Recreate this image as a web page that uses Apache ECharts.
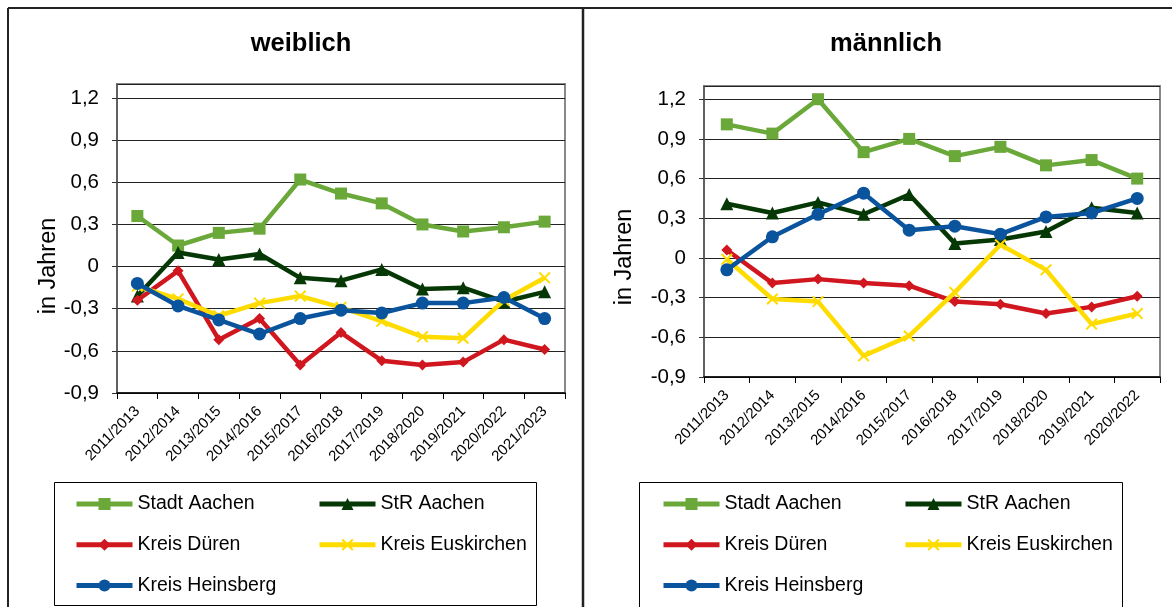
<!DOCTYPE html>
<html>
<head>
<meta charset="utf-8">
<script src="https://cdn.jsdelivr.net/npm/echarts@6/dist/echarts.min.js"></script>
<style>
html,body{margin:0;padding:0;background:#fff;}
#chart{width:1172px;height:607px;}
</style>
</head>
<body>
<div id="chart"></div>
<script>
const categoriesW = ['2011/2013','2012/2014','2013/2015','2014/2016','2015/2017','2016/2018','2017/2019','2018/2020','2019/2021','2020/2022','2021/2023'];
const categoriesM = ['2011/2013','2012/2014','2013/2015','2014/2016','2015/2017','2016/2018','2017/2019','2018/2020','2019/2021','2020/2022'];

const seriesNames = ['Stadt Aachen','StR Aachen','Kreis Düren','Kreis Euskirchen','Kreis Heinsberg'];

// weiblich
const stadtAachenW     = [0.36, 0.15, 0.24, 0.27, 0.62, 0.52, 0.45, 0.30, 0.25, 0.28, 0.32];
const strAachenW       = [-0.21, 0.10, 0.05, 0.09, -0.08, -0.10, -0.02, -0.16, -0.15, -0.25, -0.18];
const kreisDuerenW     = [-0.24, -0.03, -0.52, -0.37, -0.70, -0.47, -0.67, -0.70, -0.68, -0.52, -0.59];
const kreisEuskirchenW = [-0.14, -0.23, -0.35, -0.26, -0.21, -0.29, -0.39, -0.50, -0.51, -0.24, -0.08];
const kreisHeinsbergW  = [-0.12, -0.28, -0.38, -0.48, -0.37, -0.31, -0.33, -0.26, -0.26, -0.22, -0.37];

// männlich
const stadtAachenM     = [1.01, 0.94, 1.20, 0.80, 0.90, 0.77, 0.84, 0.70, 0.74, 0.60];
const strAachenM       = [0.41, 0.34, 0.42, 0.33, 0.48, 0.11, 0.14, 0.20, 0.38, 0.34];
const kreisDuerenM     = [0.06, -0.19, -0.16, -0.19, -0.21, -0.33, -0.35, -0.42, -0.37, -0.29];
const kreisEuskirchenM = [-0.01, -0.31, -0.33, -0.74, -0.59, -0.26, 0.10, -0.09, -0.50, -0.42];
const kreisHeinsbergM  = [-0.09, 0.16, 0.33, 0.49, 0.21, 0.24, 0.18, 0.31, 0.34, 0.45];

const yMin = -0.9, yMax = 1.3, yInterval = 0.3;

const colors = ['#6aa83a', '#063806', '#d0161e', '#ffdc00', '#0a539d'];
const xPath = 'path://M0,1.2L1.2,0L5,3.8L8.8,0L10,1.2L6.2,5L10,8.8L8.8,10L5,6.2L1.2,10L0,8.8L3.8,5Z';
const symbols = ['rect', 'triangle', 'diamond', xPath, 'circle'];
const symbolSizes = [12, 13, 11, 12, 13];

const dataW = [stadtAachenW, strAachenW, kreisDuerenW, kreisEuskirchenW, kreisHeinsbergW];
const dataM = [stadtAachenM, strAachenM, kreisDuerenM, kreisEuskirchenM, kreisHeinsbergM];

const FONT = '"Liberation Sans", Arial, sans-serif';

function yAxisCfg(gridIndex) {
  return {
    type: 'value', gridIndex, min: yMin, max: yMax, interval: yInterval,
    axisLine: { show: true, lineStyle: { color: '#555', width: 1.5 } },
    axisTick: { show: true, length: 5, inside: false, lineStyle: { color: '#333' } },
    splitLine: { show: true, lineStyle: { color: '#222', width: 1 } },
    axisLabel: {
      showMaxLabel: false, color: '#000', fontSize: 20.5, fontFamily: FONT, margin: 18,
      formatter: v => (Math.round(v * 10) / 10).toString().replace('.', ',')
    }
  };
}
function xAxisCfg(gridIndex, cats) {
  return {
    type: 'category', gridIndex, data: cats, boundaryGap: true,
    axisLine: { show: true, onZero: false, lineStyle: { color: '#000', width: 1.5 } },
    axisTick: { show: true, length: 6, inside: false, lineStyle: { color: '#000' } },
    axisLabel: { interval: 0, rotate: 45, color: '#000', fontSize: 15, fontFamily: FONT, margin: 16 },
    splitLine: { show: false }
  };
}

const series = [];
[dataW, dataM].forEach((set, gi) => {
  set.forEach((arr, i) => {
    series.push({
      name: seriesNames[i], type: 'line', xAxisIndex: gi, yAxisIndex: gi,
      data: arr, symbol: symbols[i], symbolSize: symbolSizes[i],
      lineStyle: { color: colors[i], width: 4.5 },
      itemStyle: { color: colors[i], borderColor: colors[i], borderWidth: 0 },
      emphasis: { disabled: true }, animation: false, z: 2 + i, showAllSymbol: true
    });
  });
});

function legendCfg(left, names) {
  return {
    orient: 'vertical', left, top: 493, padding: 0, itemGap: 18.8, itemWidth: 56, itemHeight: 15,
    selectedMode: false, data: names,
    lineStyle: { width: 5 },
    textStyle: { color: '#000', fontSize: 19.5, fontFamily: FONT, lineHeight: 22 }
  };
}

const col1 = [seriesNames[0], seriesNames[2], seriesNames[4]];
const col2 = [seriesNames[1], seriesNames[3]];

const option = {
  backgroundColor: '#fff',
  animation: false,
  title: [
    { text: 'weiblich', left: 296, top: 26, textAlign: 'center', textStyle: { fontSize: 25.5, fontWeight: 'bold', fontFamily: FONT, color: '#000' } },
    { text: 'männlich', left: 881, top: 26, textAlign: 'center', textStyle: { fontSize: 25.5, fontWeight: 'bold', fontFamily: FONT, color: '#000' } }
  ],
  grid: [
    { left: 117, top: 84, width: 448, height: 309, show: true, borderColor: '#888', borderWidth: 2, backgroundColor: '#fff', containLabel: false },
    { left: 704, top: 86, width: 456, height: 291, show: true, borderColor: '#888', borderWidth: 2, backgroundColor: '#fff', containLabel: false }
  ],
  xAxis: [xAxisCfg(0, categoriesW), xAxisCfg(1, categoriesM)],
  yAxis: [yAxisCfg(0), yAxisCfg(1)],
  legend: [legendCfg(74, col1), legendCfg(317, col2), legendCfg(661, col1), legendCfg(903, col2)],
  series,
  graphic: [
    { type: 'line', shape: { x1: 8, y1: 8, x2: 1172, y2: 8 }, style: { stroke: '#222', lineWidth: 2 }, z: 100 },
    { type: 'line', shape: { x1: 8, y1: 8, x2: 8, y2: 607 }, style: { stroke: '#222', lineWidth: 2 }, z: 100 },
    { type: 'line', shape: { x1: 583, y1: 8, x2: 583, y2: 607 }, style: { stroke: '#222', lineWidth: 2.5 }, z: 100 },
    { type: 'rect', shape: { x: 54.5, y: 482.5, width: 482, height: 123 }, style: { fill: 'none', stroke: '#000', lineWidth: 1 }, z: 50 },
    { type: 'rect', shape: { x: 639.5, y: 482.5, width: 483, height: 140 }, style: { fill: 'none', stroke: '#000', lineWidth: 1 }, z: 50 },
    { type: 'text', x: 49, y: 266, rotation: Math.PI / 2, style: { text: 'in Jahren', fontSize: 23.5, fontFamily: FONT, fill: '#000', align: 'center', verticalAlign: 'middle' }, z: 100 },
    { type: 'text', x: 625, y: 257, rotation: Math.PI / 2, style: { text: 'in Jahren', fontSize: 23.5, fontFamily: FONT, fill: '#000', align: 'center', verticalAlign: 'middle' }, z: 100 }
  ]
};

const chart = echarts.init(document.getElementById('chart'), null, { renderer: 'canvas' });
chart.setOption(option);
</script>
</body>
</html>
